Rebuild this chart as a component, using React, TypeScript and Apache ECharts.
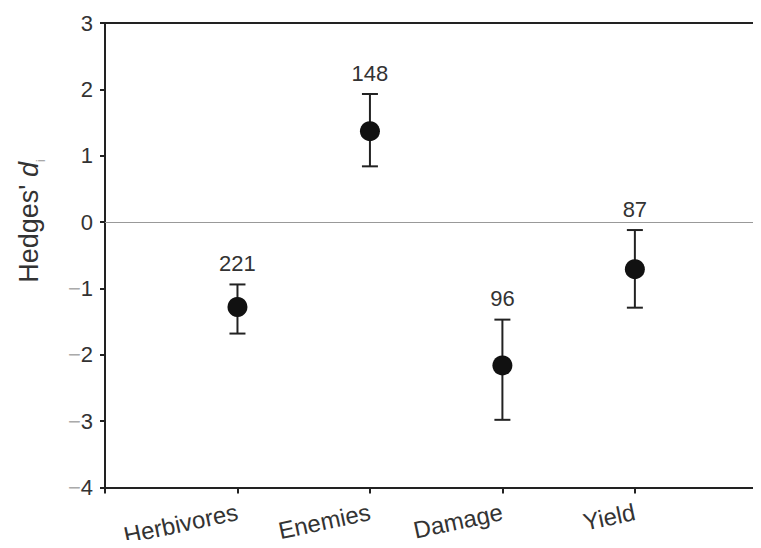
import React, { useEffect, useRef } from "react";
import * as echarts from "echarts";

const categories = ["Herbivores", "Enemies", "Damage", "Yield"];
const means = [-1.28, 1.37, -2.16, -0.71];
const lower = [-1.68, 0.84, -2.98, -1.29];
const upper = [-0.94, 1.93, -1.47, -0.12];
const sampleSizes = [221, 148, 96, 87];
const yTicks = [-4, -3, -2, -1, 0, 1, 2, 3];

const FONT = "'Liberation Sans', Arial, Helvetica, sans-serif";

export default function App() {
  const ref = useRef<HTMLDivElement>(null);
  useEffect(() => {
    if (!ref.current) return;
    const chart = echarts.init(ref.current, null, { renderer: "svg" });
    chart.setOption({
      animation: false,
      backgroundColor: "#fff",
      textStyle: { fontFamily: FONT },
      grid: { left: 105, right: 0, top: 23, bottom: 60, containLabel: false },
      xAxis: {
        type: "value",
        min: 0,
        max: 4.93,
        interval: 1,
        splitLine: { show: false },
        axisLine: { show: true, onZero: false, lineStyle: { color: "#222", width: 2 } },
        axisTick: { show: true, length: 6, lineStyle: { color: "#222", width: 2 } },
        axisLabel: {
          rotate: 12,
          fontSize: 24,
          color: "#333",
          margin: 24,
          fontFamily: FONT,
          formatter: (v: number) => categories[Math.round(v) - 1] || "",
        },
      },
      yAxis: {
        type: "value",
        min: yTicks[0],
        max: yTicks[yTicks.length - 1],
        interval: 1,
        splitLine: { show: false },
        axisLine: { show: true, onZero: false, lineStyle: { color: "#222", width: 2 } },
        axisTick: { show: true, length: 5, lineStyle: { color: "#222", width: 2 } },
        axisLabel: {
          fontSize: 22,
          color: "#333",
          margin: 12,
          fontFamily: FONT,
          formatter: (v: number) =>
            v < 0 ? `{m|−}{n|${Math.abs(v)}}` : `{n|${v}}`,
          rich: {
            m: { color: "#aaa", fontSize: 22, fontFamily: FONT },
            n: { color: "#333", fontSize: 22, fontFamily: FONT },
          },
        },
      },
      graphic: [
        {
          type: "text",
          x: 29,
          y: 221,
          rotation: Math.PI / 2,
          style: {
            text: "Hedges' {d|d}{s|i}",
            fontSize: 27,
            fontFamily: FONT,
            fill: "#333",
            align: "center",
            verticalAlign: "middle",
            rich: {
              d: { fontSize: 27, fontStyle: "italic", fontFamily: FONT, fill: "#333", lineHeight: 36 },
              s: { fontSize: 12, fontFamily: FONT, fill: "#999", verticalAlign: "bottom", lineHeight: 36 },
            },
          },
        },
      ],
      series: [
        {
          type: "custom",
          data: categories.map((c, i) => [i + 1, lower[i], upper[i], sampleSizes[i]]),
          renderItem: (params: any, api: any) => {
            const x = api.value(0);
            const lo = api.coord([x, api.value(1)]);
            const hi = api.coord([x, api.value(2)]);
            const cap = 8;
            const ls = { stroke: "#222", lineWidth: 2 };
            return {
              type: "group",
              children: [
                { type: "line", shape: { x1: hi[0], y1: hi[1], x2: lo[0], y2: lo[1] }, style: ls },
                { type: "line", shape: { x1: hi[0] - cap, y1: hi[1], x2: hi[0] + cap, y2: hi[1] }, style: ls },
                { type: "line", shape: { x1: lo[0] - cap, y1: lo[1], x2: lo[0] + cap, y2: lo[1] }, style: ls },
                {
                  type: "text",
                  x: hi[0],
                  y: hi[1] - 21,
                  style: {
                    text: String(api.value(3)),
                    fill: "#333",
                    fontSize: 22,
                    fontFamily: FONT,
                    align: "center",
                    verticalAlign: "middle",
                  },
                },
              ],
            };
          },
          z: 2,
        },
        {
          type: "scatter",
          data: categories.map((c, i) => [i + 1, means[i]]),
          symbol: "circle",
          symbolSize: 20,
          itemStyle: { color: "#111", opacity: 1 },
          z: 3,
          markLine: {
            silent: true,
            symbol: "none",
            label: { show: false },
            data: [
              { yAxis: 3, lineStyle: { color: "#222", width: 2, type: "solid" } },
              { yAxis: 0, lineStyle: { color: "#999", width: 1, type: "solid" } },
            ],
          },
        },
      ],
    });
    return () => chart.dispose();
  }, []);
  return <div ref={ref} style={{ width: 761, height: 548, margin: -8 }} />;
}
